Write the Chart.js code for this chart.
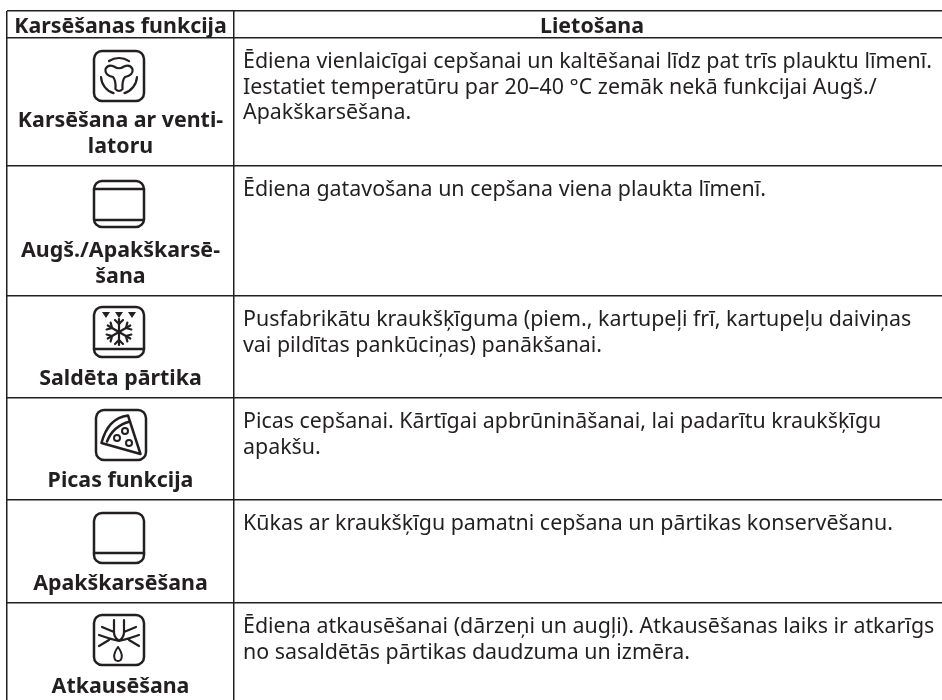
<!DOCTYPE html>
<html lang="lv">
<head>
<meta charset="utf-8">
<title>Karsēšanas funkcijas</title>
<style>
  html, body { margin: 0; padding: 0; background: #fff; }
  #wrap { width: 942px; height: 700px; overflow: hidden; }
</style>
<script src="https://cdn.jsdelivr.net/npm/chart.js@4"></script>
</head>
<body>
<div id="wrap"><canvas id="tabula" width="942" height="700"></canvas></div>
<script>
// Table contents
const headers = ['Karsēšanas funkcija', 'Lietošana'];

const functionNames = [
  ['Karsēšana ar venti-', 'latoru'],
  ['Augš./Apakškarsē-', 'šana'],
  ['Saldēta pārtika'],
  ['Picas funkcija'],
  ['Apakškarsēšana'],
  ['Atkausēšana']
];

const usages = [
  ['Ēdiena vienlaicīgai cepšanai un kaltēšanai līdz pat trīs plauktu līmenī.',
   'Iestatiet temperatūru par 20–40 °C zemāk nekā funkcijai Augš./',
   'Apakškarsēšana.'],
  ['Ēdiena gatavošana un cepšana viena plaukta līmenī.'],
  ['Pusfabrikātu kraukšķīguma (piem., kartupeļi frī, kartupeļu daiviņas',
   'vai pildītas pankūciņas) panākšanai.'],
  ['Picas cepšanai. Kārtīgai apbrūnināšanai, lai padarītu kraukšķīgu',
   'apakšu.'],
  ['Kūkas ar kraukšķīgu pamatni cepšana un pārtikas konservēšanu.'],
  ['Ēdiena atkausēšanai (dārzeņi un augļi). Atkausēšanas laiks ir atkarīgs',
   'no sasaldētās pārtikas daudzuma un izmēra.']
];

const iconNames = ['fan', 'topBottom', 'frozen', 'pizza', 'bottom', 'defrost'];

// Layout, in px from the table's top left corner. The table runs off the
// right and bottom of the picture, so the last edge of each list is not drawn.
const columnEdges = [0, 227, 943];
const rowEdges = [0, 27, 155, 285, 387, 489, 592, 695];
const iconY = [38, 38, 36, 37, 38, 37];
const iconX = [112, 112, 112, 114, 112, 112];

const ink = '#231f20';
const iconSize = 60;

function iconCanvas(name) {
  const c = document.createElement('canvas');
  c.width = iconSize;
  c.height = iconSize;
  const g = c.getContext('2d');
  g.strokeStyle = ink;
  g.fillStyle = ink;
  g.lineWidth = 2.5;
  g.lineCap = 'round';
  g.lineJoin = 'round';
  g.translate(30, 30);

  const line = (x1, y1, x2, y2) => {
    g.beginPath(); g.moveTo(x1, y1); g.lineTo(x2, y2); g.stroke();
  };
  const frame = (top, bottom) => {
    g.beginPath();
    g.roundRect(-25, top, 50, bottom - top, 8);
    g.stroke();
  };

  if (name === 'fan') {
    frame(-25, 25);
    // three blades
    g.lineWidth = 2.2;
    g.beginPath();
    g.moveTo(-3.5, 13);
    g.quadraticCurveTo(-3, 4, -6, 1);
    g.quadraticCurveTo(-14.5, -1, -13.5, -7);
    g.quadraticCurveTo(-11, -12, -5, -9.5);
    g.quadraticCurveTo(0, -6, 5, -9.5);
    g.quadraticCurveTo(11, -12, 13.5, -7);
    g.quadraticCurveTo(14.5, -1, 6, 1);
    g.quadraticCurveTo(3, 4, 3.5, 13);
    g.quadraticCurveTo(0, 17, -3.5, 13);
    g.stroke();
    // ring segments
    g.beginPath(); g.arc(0, 0, 18, -2.16, -0.98); g.stroke();
    g.beginPath(); g.arc(0, 0, 18, 0.06, 1.26); g.stroke();
    g.beginPath(); g.arc(0, 0, 18, 1.88, 3.08); g.stroke();
  } else if (name === 'topBottom') {
    frame(-23, 23);
    line(-25, -15, 25, -15);
    line(-25, 16, 25, 16);
  } else if (name === 'frozen') {
    frame(-25, 25);
    line(-25, 17, 25, 17);
    [-13, 0, 13].forEach(x => {
      g.beginPath();
      g.moveTo(x - 4, -20);
      g.lineTo(x + 4, -20);
      g.lineTo(x, -14);
      g.closePath();
      g.fill();
    });
    // snowflake
    g.save();
    g.lineWidth = 2.2;
    for (let i = 0; i < 6; i++) {
      g.rotate(Math.PI / 3);
      line(0, 0, 0, -13);
      line(0, -8, -4, -12);
      line(0, -8, 4, -12);
    }
    g.restore();
  } else if (name === 'pizza') {
    frame(-25, 25);
    // slice
    g.beginPath();
    g.moveTo(-19.5, 8);
    g.lineTo(19.5, 19);
    g.lineTo(7, -19.5);
    g.quadraticCurveTo(-13, -17, -19.5, 8);
    g.stroke();
    g.beginPath();
    g.moveTo(-14, 6.5);
    g.quadraticCurveTo(-8, -9, 9, -13.5);
    g.stroke();
    g.lineWidth = 2;
    [[4, -4], [-4, 3], [8, 8]].forEach(p => {
      g.beginPath(); g.arc(p[0], p[1], 3, 0, Math.PI * 2); g.stroke();
    });
  } else if (name === 'bottom') {
    frame(-25, 25);
    line(-25, 15, 25, 15);
  } else if (name === 'defrost') {
    frame(-25, 25);
    // frost branches
    g.lineWidth = 2.2;
    g.beginPath();
    g.moveTo(-20, -5); g.quadraticCurveTo(-9, -1, 0, 1); g.quadraticCurveTo(9, -1, 20, -5);
    g.moveTo(-20, 6); g.lineTo(-10, 0);
    g.moveTo(20, 6); g.lineTo(10, 0);
    g.moveTo(-5, -20); g.lineTo(-5, -8); g.quadraticCurveTo(-5, -3, -1, 0);
    g.moveTo(5, -20); g.lineTo(5, -8); g.quadraticCurveTo(5, -3, 1, 0);
    g.moveTo(-17, -13); g.lineTo(-5, -8);
    g.moveTo(17, -13); g.lineTo(5, -8);
    g.stroke();
    // drop
    g.lineWidth = 2;
    g.beginPath();
    g.moveTo(-1, 7);
    g.bezierCurveTo(-7, 15, -5, 21, -1, 21);
    g.bezierCurveTo(3, 21, 5, 15, -1, 7);
    g.stroke();
  }
  return c;
}

// Draws the header, the function names and the usage text into the cells
const cellText = {
  id: 'cellText',
  afterDatasetsDraw(chart) {
    const { ctx, scales: { x, y } } = chart;
    const firstCol = x.getPixelForValue((columnEdges[0] + columnEdges[1]) / 2);
    const secondCol = x.getPixelForValue((columnEdges[1] + columnEdges[2]) / 2);
    ctx.save();
    ctx.fillStyle = ink;
    ctx.textBaseline = 'alphabetic';

    ctx.font = 'bold 21.4px "Noto Sans"';
    ctx.textAlign = 'center';
    ctx.fillText(headers[0], firstCol, y.getPixelForValue(21.7));
    ctx.fillText(headers[1], secondCol, y.getPixelForValue(21.7));

    functionNames.forEach((lines, r) => {
      const bottom = rowEdges[r + 2];
      lines.forEach((t, i) => {
        const base = bottom - 13 - (lines.length - 1 - i) * 25.7;
        ctx.fillText(t, firstCol, y.getPixelForValue(base));
      });
    });

    ctx.font = '21.4px "Noto Sans"';
    ctx.textAlign = 'left';
    usages.forEach((lines, r) => {
      const top = rowEdges[r + 1];
      lines.forEach((t, i) => {
        ctx.fillText(t, x.getPixelForValue(columnEdges[1] + 9), y.getPixelForValue(top + 30 + i * 25.7));
      });
    });
    ctx.restore();
  }
};

new Chart(document.getElementById('tabula'), {
  type: 'scatter',
  data: {
    datasets: [{
      data: iconNames.map((n, r) => ({ x: iconX[r], y: rowEdges[r + 1] + iconY[r] })),
      pointStyle: iconNames.map(iconCanvas),
      pointRadius: iconSize / 2
    }]
  },
  plugins: [cellText],
  options: {
    responsive: false,
    animation: false,
    layout: { autoPadding: false, padding: { left: 7, top: 11, right: 0, bottom: 0 } },
    plugins: { legend: { display: false }, tooltip: { enabled: false } },
    scales: {
      x: {
        min: 0,
        max: 935,
        afterBuildTicks: s => { s.ticks = columnEdges.slice(0, -1).map(value => ({ value })); },
        ticks: { display: false },
        border: { display: false },
        grid: { color: ink, lineWidth: 1.5, drawTicks: false }
      },
      y: {
        reverse: true,
        min: 0,
        max: 689,
        afterBuildTicks: s => { s.ticks = rowEdges.slice(0, -1).map(value => ({ value })); },
        ticks: { display: false },
        border: { display: false },
        grid: { color: ink, lineWidth: 1.5, drawTicks: false }
      }
    }
  }
});
</script>
</body>
</html>
